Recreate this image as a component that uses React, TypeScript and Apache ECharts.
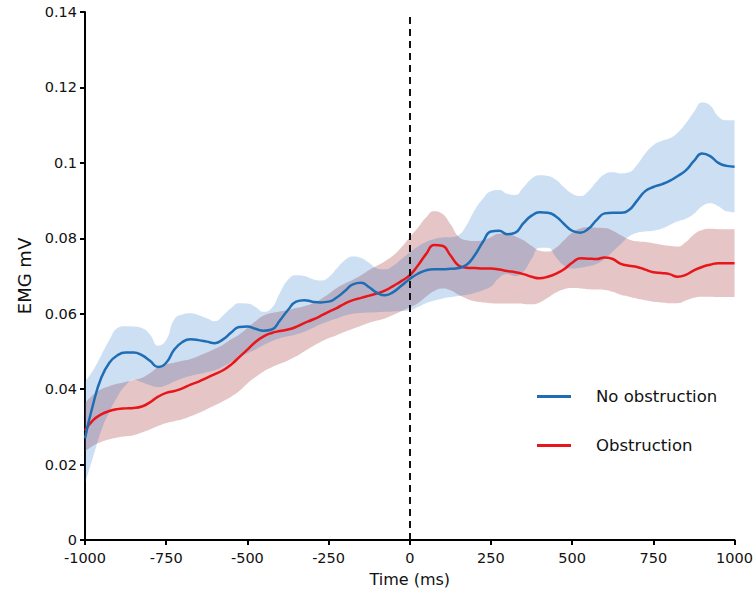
import React, { useEffect, useRef } from "react";
import * as echarts from "echarts";

const times: number[] = [];
for (let t = -1000; t <= 1000; t += 25) times.push(t);

const blueLine = [
  0.027, 0.036, 0.043, 0.047, 0.049, 0.0497, 0.0497, 0.049, 0.0475, 0.0459,
  0.047, 0.0505, 0.0525, 0.0532, 0.053, 0.0526, 0.0522, 0.0532, 0.055, 0.0565,
  0.0566, 0.056, 0.0555, 0.0558, 0.0582, 0.061, 0.0632, 0.0636, 0.0632, 0.063,
  0.0632, 0.0643, 0.066, 0.0678, 0.0682, 0.067, 0.0655, 0.0649, 0.0658, 0.0675,
  0.0692, 0.0706, 0.0715, 0.0718, 0.0718, 0.0719, 0.0721, 0.073, 0.0755, 0.079,
  0.0818, 0.082, 0.0811, 0.0815, 0.084, 0.086, 0.0869, 0.0868, 0.0858, 0.0838,
  0.082, 0.0815, 0.0825, 0.0848, 0.0866, 0.0868, 0.0868, 0.0875, 0.09, 0.0925,
  0.0936, 0.0943, 0.0952, 0.0965, 0.098, 0.1005, 0.1025, 0.1018, 0.1, 0.0992,
  0.099,
];

const blueUpper = [
  0.042, 0.045, 0.049, 0.053, 0.0562, 0.0567, 0.0566, 0.0562, 0.0545, 0.0515,
  0.053, 0.0585, 0.0598, 0.0601, 0.0596, 0.0588, 0.058, 0.0595, 0.0615, 0.0628,
  0.0627, 0.0618, 0.0605, 0.0615, 0.0655, 0.069, 0.0702, 0.07, 0.0692, 0.0688,
  0.0697, 0.072, 0.0742, 0.0752, 0.0748, 0.0735, 0.072, 0.0718, 0.0728, 0.0745,
  0.0762, 0.0778, 0.079, 0.0798, 0.0802, 0.0803, 0.0808, 0.0835, 0.0875, 0.0905,
  0.0925, 0.0928, 0.0918, 0.0915, 0.0935, 0.0958, 0.0967, 0.0965, 0.0955, 0.0935,
  0.0918, 0.0912, 0.0925, 0.095, 0.097, 0.0975, 0.0972, 0.0975, 0.0995, 0.1025,
  0.1047, 0.1058, 0.1065, 0.108, 0.1105, 0.1135, 0.116, 0.1152, 0.1123, 0.1113,
  0.1113,
];

const blueLower = [
  0.015, 0.022, 0.029, 0.034, 0.038, 0.041, 0.0425, 0.0418, 0.041, 0.0405,
  0.041, 0.042, 0.0429, 0.0435, 0.044, 0.0445, 0.045, 0.046, 0.0472, 0.0485,
  0.0495, 0.0505, 0.0517, 0.0527, 0.0535, 0.054, 0.0545, 0.0552, 0.0562, 0.0572,
  0.058, 0.0587, 0.0595, 0.06, 0.0602, 0.0603, 0.0604, 0.0605, 0.0606, 0.0607,
  0.0609, 0.0618, 0.0628, 0.0635, 0.064, 0.0644, 0.0647, 0.065, 0.0655, 0.0662,
  0.0672, 0.0695, 0.0705, 0.07, 0.0712, 0.0745, 0.0775, 0.0775, 0.075, 0.0728,
  0.072, 0.0722, 0.0726, 0.0732, 0.0745, 0.0765, 0.0785, 0.0805, 0.0815, 0.0818,
  0.082, 0.0825, 0.0835, 0.0845, 0.0852, 0.0865, 0.0885, 0.0893, 0.0885, 0.0872,
  0.0869,
];

const redLine = [
  0.029, 0.0318, 0.0333, 0.0342, 0.0347, 0.0349, 0.035, 0.0354, 0.0365, 0.038,
  0.039, 0.0395, 0.0402, 0.0412, 0.042, 0.043, 0.044, 0.045, 0.0465, 0.0485,
  0.0505, 0.0525, 0.054, 0.0549, 0.0554, 0.0558, 0.0565, 0.0575, 0.0584, 0.0594,
  0.0605, 0.0615, 0.0627, 0.0636, 0.0642, 0.0648, 0.0654, 0.0662, 0.0674, 0.0687,
  0.0702, 0.0728, 0.0758, 0.0782, 0.078, 0.0755, 0.0728, 0.0722, 0.0721, 0.072,
  0.072, 0.0717, 0.0713, 0.071, 0.0705, 0.0698, 0.0694, 0.0698, 0.0706, 0.0718,
  0.0735, 0.0747, 0.0746, 0.0745, 0.0749, 0.0745, 0.0732, 0.0727, 0.0724, 0.0717,
  0.071, 0.0708, 0.0705, 0.0698, 0.0703, 0.0715, 0.0724, 0.073, 0.0734, 0.0734,
  0.0734,
];

const redUpper = [
  0.0363, 0.0385, 0.04, 0.0408, 0.0414, 0.0419, 0.0424, 0.043, 0.0442, 0.0458,
  0.0466, 0.047, 0.0475, 0.048, 0.0488, 0.0497, 0.0507, 0.0518, 0.0532, 0.0545,
  0.0562, 0.058, 0.0595, 0.0602, 0.0606, 0.061, 0.0615, 0.062, 0.0627, 0.0638,
  0.0652, 0.0668, 0.068, 0.069, 0.0702, 0.0716, 0.0728, 0.074, 0.0755, 0.0777,
  0.0803, 0.0828, 0.0855, 0.0872, 0.0865, 0.0838, 0.0805, 0.0795, 0.0793, 0.0795,
  0.0803, 0.0812, 0.0812, 0.0805, 0.0795, 0.078, 0.0767, 0.0765, 0.0775, 0.0795,
  0.0815, 0.0826, 0.0829, 0.0828, 0.0827, 0.082, 0.0808, 0.0797, 0.0792, 0.079,
  0.0787, 0.0783, 0.078, 0.0778, 0.079, 0.081, 0.0822, 0.0825, 0.0824, 0.0824,
  0.0824,
];

const redLower = [
  0.0235, 0.025, 0.026, 0.0267, 0.0272, 0.0275, 0.0278, 0.0285, 0.0293, 0.0302,
  0.031, 0.0315, 0.032, 0.0328, 0.0337, 0.0347, 0.0357, 0.0368, 0.038, 0.0395,
  0.0415, 0.0432, 0.0447, 0.0458, 0.0467, 0.0476, 0.0487, 0.05, 0.0513, 0.0525,
  0.0535, 0.0543, 0.0552, 0.056, 0.0568, 0.0576, 0.0582, 0.0588, 0.0597, 0.0607,
  0.0617, 0.0628, 0.0645, 0.066, 0.0667, 0.0662, 0.065, 0.064, 0.0633, 0.063,
  0.0628, 0.0627, 0.0627, 0.0627, 0.0626, 0.0625, 0.063, 0.0642, 0.0656, 0.0665,
  0.0668, 0.0667, 0.0665, 0.0664, 0.0663, 0.0658, 0.065, 0.0645, 0.064, 0.0636,
  0.0632, 0.063, 0.0628, 0.0628, 0.0635, 0.0642, 0.0645, 0.0645, 0.0644, 0.0644,
  0.0644,
];

const xLabelStep = 10; // every 250 ms
const yTicks = { min: 0, max: 0.14, interval: 0.02 };
const eventTime = "0";

const FONT = "'DejaVu Sans', sans-serif";

export default function App() {
  const ref = useRef<HTMLDivElement>(null);
  useEffect(() => {
    if (!ref.current) return;
    const chart = echarts.init(ref.current, null, { renderer: "svg" });
    const smooth = 0.5;
    const band = (name: string, stack: string, lower: number[], upper: number[], color: string, z: number) => [
      {
        name: name + "_lo",
        type: "line",
        stack,
        data: lower,
        smooth,
        symbol: "none",
        lineStyle: { width: 0, opacity: 0 },
        silent: true,
        z,
      },
      {
        name: name + "_hi",
        type: "line",
        stack,
        data: upper.map((u, i) => +(u - lower[i]).toFixed(5)),
        smooth,
        symbol: "none",
        lineStyle: { width: 0, opacity: 0 },
        areaStyle: { color, opacity: 1 },
        silent: true,
        z,
      },
    ];
    chart.setOption({
      animation: false,
      backgroundColor: "#ffffff",
      grid: { left: 85, right: 21, top: 12, bottom: 58, containLabel: false },
      legend: {
        data: ["No obstruction", "Obstruction"],
        orient: "vertical",
        left: 532,
        top: 383,
        itemWidth: 34,
        itemHeight: 3,
        itemGap: 32,
        icon: "rect",
        textStyle: { fontSize: 16.5, fontFamily: FONT, color: "#111", padding: [0, 0, 0, 20] },
      },
      xAxis: {
        type: "category",
        boundaryGap: false,
        data: times.map(String),
        name: "Time (ms)",
        nameLocation: "middle",
        nameGap: 31,
        nameTextStyle: { fontSize: 16, fontFamily: FONT, color: "#111" },
        axisLine: { lineStyle: { color: "#000", width: 2 } },
        axisTick: { show: true, length: 5, interval: xLabelStep - 1, alignWithLabel: true, lineStyle: { color: "#000", width: 2 } },
        axisLabel: { interval: xLabelStep - 1, fontSize: 14.5, fontFamily: FONT, color: "#111", margin: 10 },
        splitLine: { show: false },
      },
      yAxis: {
        type: "value",
        ...yTicks,
        name: "EMG mV",
        nameLocation: "middle",
        nameGap: 45,
        nameTextStyle: { fontSize: 18, fontFamily: FONT, color: "#111" },
        axisLine: { show: true, lineStyle: { color: "#000", width: 2 } },
        axisTick: { show: true, length: 5, lineStyle: { color: "#000", width: 2 } },
        axisLabel: { fontSize: 14.5, fontFamily: FONT, color: "#111", margin: 8 },
        splitLine: { show: false },
      },
      series: [
        ...band("red", "r", redLower, redUpper, "rgba(168,62,62,0.3)", 1),
        ...band("blue", "b", blueLower, blueUpper, "rgba(27,109,200,0.22)", 2),
        {
          name: "Obstruction",
          type: "line",
          data: redLine,
          smooth,
          symbol: "none",
          color: "#e8161b",
          lineStyle: { color: "#e8161b", width: 2.5 },
          z: 3,
          markLine: {
            silent: true,
            symbol: ["none", "none"],
            label: { show: false },
            lineStyle: { color: "#111", width: 2, type: [7, 5] },
            data: [{ xAxis: eventTime }],
          },
        },
        {
          name: "No obstruction",
          type: "line",
          data: blueLine,
          smooth,
          symbol: "none",
          color: "#1f6db4",
          lineStyle: { color: "#1f6db4", width: 2.5 },
          z: 4,
        },
      ],
    });
    return () => chart.dispose();
  }, []);
  return <div ref={ref} style={{ width: 756, height: 598, position: "absolute", left: 0, top: 0 }} />;
}
